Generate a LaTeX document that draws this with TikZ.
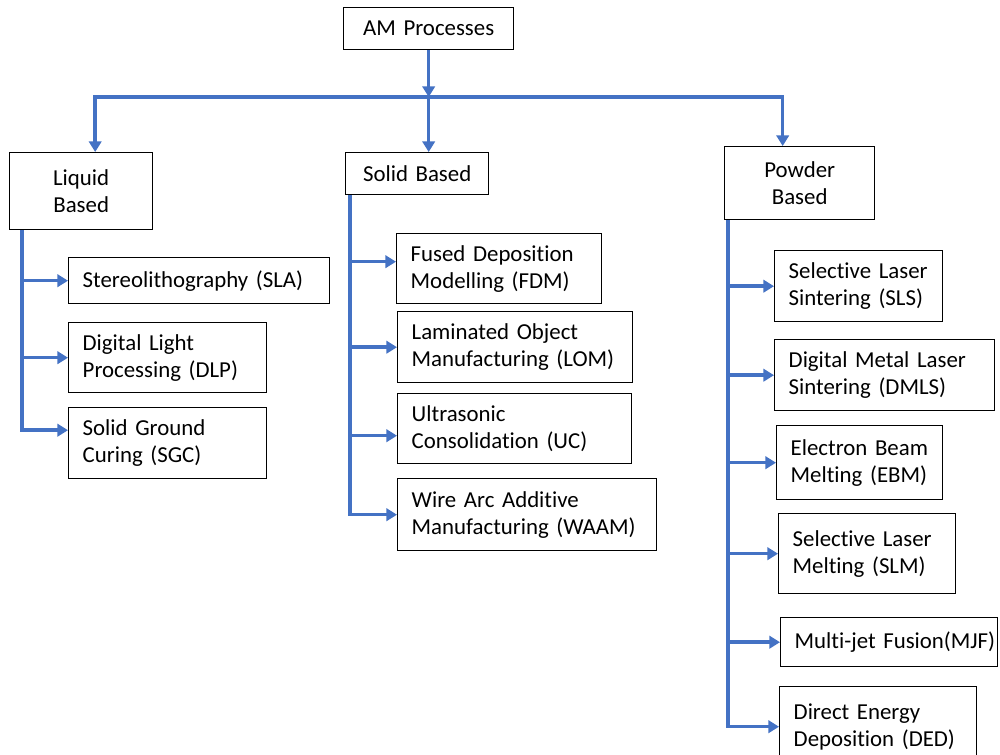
\documentclass[tikz,border=0pt]{standalone}
\usepackage{fontspec}
\setmainfont{Carlito}[Ligatures=NoCommon]
\usepackage{tikz}
\usetikzlibrary{calc,positioning,arrows.meta}
\definecolor{amblue}{RGB}{68,114,196}
\tikzset{
	box/.style={draw,line width=0.8pt,inner xsep=0.28cm,inner ysep=0pt,
		font=\fontsize{13pt}{15.5pt}\selectfont},
	catbox/.style={box,align=center,anchor=north west},
	procbox/.style={box,align=left,anchor=north west},
	conn/.style={amblue,line width=2pt,->}
}

\begin{document}
\begin{tikzpicture}[x=0.02cm,y=-0.02cm,>={Triangle[length=6pt,width=7pt]}]
		\path[fill=white,use as bounding box] (0,0) rectangle (1000,754);
		% top and the three families
		\node[catbox,text width=2.84cm,minimum height=0.84cm] (am) at (343,7) {AM Processes};
		\node[catbox,text width=2.30cm,minimum height=1.54cm] (liq) at (9,152) {Liquid\\Based};
		\node[catbox,text width=2.30cm,minimum height=0.84cm] (sol) at (345,152) {Solid Based};
		\node[catbox,text width=2.44cm,minimum height=1.46cm] (pow) at (724,146) {Powder\\Based};
		\coordinate (bus) at (am.south |- 0,97);
		\draw[conn] (am.south) -- (bus);
		\draw[conn] (bus) -| ($(liq.north)+(14,0)$);
		\draw[conn] (bus) -- (bus |- sol.north);
		\draw[conn] (bus) -| ($(pow.north)+(-17,0)$);
		% liquid based
		\node[procbox,text width=4.66cm,minimum height=0.92cm] (sla) at (68,257) {Stereolithography (SLA)};
		\node[procbox,text width=3.40cm,minimum height=1.40cm] (dlp) at (68,322) {Digital Light\\Processing (DLP)};
		\node[procbox,text width=3.40cm,minimum height=1.42cm] (sgc) at (68,407) {Solid Ground\\Curing (SGC)};
		\coordinate (liqspine) at ($(liq.south west)+(13,0)$);
		\draw[conn] (liqspine) |- (sla);
		\draw[conn] (liqspine) |- (dlp);
		\draw[conn] (liqspine) |- ($(sgc.west)+(0,-13)$);
		% solid based
		\node[procbox,text width=3.54cm,minimum height=1.40cm] (fdm) at (396,233) {Fused Deposition\\Modelling (FDM)};
		\node[procbox,text width=4.14cm,minimum height=1.42cm] (lom) at (397,311) {Laminated Object\\Manufacturing (LOM)};
		\node[procbox,text width=4.12cm,minimum height=1.40cm] (uc) at (397,393) {Ultrasonic\\Consolidation (UC)};
		\node[procbox,text width=4.62cm,minimum height=1.44cm] (waam) at (397,478) {Wire Arc Additive\\Manufacturing (WAAM)};
		\coordinate (solspine) at ($(sol.south west)+(5,0)$);
		\draw[conn] (solspine) |- ($(fdm.west)+(0,-7)$);
		\draw[conn] (solspine) |- (lom);
		\draw[conn] (solspine) |- ($(uc.west)+(0,7)$);
		\draw[conn] (solspine) |- (waam);
		% powder based
		\node[procbox,text width=2.80cm,minimum height=1.42cm] (sls) at (774,250) {Selective Laser\\Sintering (SLS)};
		\node[procbox,text width=3.84cm,minimum height=1.42cm] (dmls) at (774,339) {Digital Metal Laser\\Sintering (DMLS)};
		\node[procbox,text width=2.76cm,minimum height=1.48cm] (ebm) at (776,425) {Electron Beam\\Melting (EBM)};
		\node[procbox,text width=2.98cm,minimum height=1.60cm] (slm) at (778,513) {Selective Laser\\Melting (SLM)};
		\node[procbox,text width=3.78cm,minimum height=0.98cm] (mjf) at (780,617) {\mbox{Multi-jet Fusion(MJF)}};
		\node[procbox,text width=3.38cm,minimum height=1.60cm] (ded) at (779,686) {Direct Energy\\\mbox{Deposition (DED)}};
		\coordinate (powspine) at ($(pow.south west)+(4,0)$);
		\foreach \p in {sls,dmls,ebm,slm,mjf,ded}
			\draw[conn] (powspine) |- (\p);
	\end{tikzpicture}
\end{document}
